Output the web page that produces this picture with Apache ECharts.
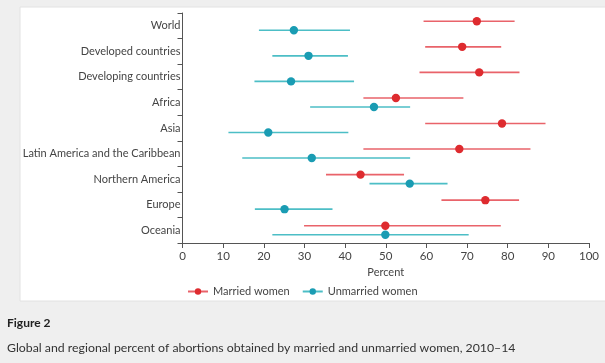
<!DOCTYPE html>
<html><head><meta charset="utf-8">
<script src="https://cdn.jsdelivr.net/npm/echarts@6/dist/echarts.min.js"></script>
<style>html,body{margin:0;padding:0;background:#efefef;}#c{width:605px;height:363px;}</style>
</head><body><div id="c"></div>
<script>
const categories = ['World','Developed countries','Developing countries','Africa','Asia','Latin America and the Caribbean','Northern America','Europe','Oceania'];
const marriedPoint = [72.4, 68.8, 73.0, 52.5, 78.6, 68.1, 43.8, 74.5, 49.9];
const marriedLow   = [59.3, 59.7, 58.3, 44.5, 59.7, 44.5, 35.3, 63.7, 29.9];
const marriedHigh  = [81.7, 78.4, 82.9, 69.1, 89.3, 85.6, 54.5, 82.8, 78.3];
const unmarriedPoint = [27.4, 31.0, 26.7, 47.1, 21.1, 31.8, 55.9, 25.1, 49.9];
const unmarriedLow   = [18.8, 22.1, 17.7, 31.4, 11.3, 14.7, 46.0, 17.8, 22.1];
const unmarriedHigh  = [41.2, 40.7, 42.2, 56.0, 40.8, 56.0, 65.2, 36.9, 70.4];
const xTicks = [0,10,20,30,40,50,60,70,80,90,100];

const FONT = 'Lato, sans-serif';
const RED_LINE = '#e9636a', RED_DOT = '#de2b2f';
const TEAL_LINE = '#4cbec6', TEAL_DOT = '#1a9cb3';

function build(point, low, high) {
  return categories.map((c, i) => [i, low[i], point[i], high[i]]);
}
function makeRender(offset, lineColor, dotColor) {
  return function (params, api) {
    const idx = api.value(0);
    const pLo = api.coord([api.value(1), idx]);
    const pPt = api.coord([api.value(2), idx]);
    const pHi = api.coord([api.value(3), idx]);
    const y = pPt[1] + offset;
    return {
      type: 'group',
      children: [
        {type: 'line', shape: {x1: pLo[0], y1: y, x2: pHi[0], y2: y}, style: {stroke: lineColor, lineWidth: 1.6}},
        {type: 'circle', shape: {cx: pPt[0], cy: y, r: 4.2}, style: {fill: dotColor}}
      ]
    };
  };
}

const chart = echarts.init(document.getElementById('c'));
chart.setOption({
  backgroundColor: '#efefef',
  animation: false,
  graphic: [
    {type: 'rect', z: -10, shape: {x: 20, y: 7, width: 600, height: 294}, style: {fill: '#ffffff', stroke: '#e2e2e2', lineWidth: 1}}
  ],
  title: [
    {text: 'Figure 2', left: 2, top: 312, textStyle: {fontFamily: FONT, fontSize: 12, fontWeight: 'bold', color: '#222'}},
    {text: 'Global and regional percent of abortions obtained by married and unmarried women, 2010\u201314', left: 2, top: 337, textStyle: {fontFamily: FONT, fontSize: 12.3, fontWeight: 'normal', color: '#333'}}
  ],
  legend: {
    top: 281, left: 182,
    itemWidth: 20, itemHeight: 8, itemGap: 12,
    textStyle: {fontFamily: FONT, fontSize: 11, color: '#444'},
    data: ['Married women', 'Unmarried women']
  },
  grid: {left: 182.5, right: 16, top: 13, bottom: 120},
  xAxis: {
    type: 'value', min: 0, max: 100, interval: 10,
    name: 'Percent', nameLocation: 'middle', nameGap: 23,
    nameTextStyle: {fontFamily: FONT, fontSize: 11, color: '#444'},
    axisLine: {show: true, lineStyle: {color: '#555', width: 1}},
    axisTick: {show: true, length: 5, lineStyle: {color: '#555'}},
    axisLabel: {fontFamily: FONT, fontSize: 11.5, color: '#444', margin: 7, formatter: v => xTicks.indexOf(v) >= 0 ? String(v) : ''},
    splitLine: {show: false}
  },
  yAxis: {
    type: 'category', inverse: true, data: categories,
    axisLine: {show: true, lineStyle: {color: '#555', width: 1}},
    axisTick: {show: true, length: 5, lineStyle: {color: '#555'}},
    axisLabel: {fontFamily: FONT, fontSize: 11, color: '#444', margin: 2},
    splitLine: {show: false}
  },
  series: [
    {type: 'line', name: 'Married women', data: [], color: RED_DOT, symbol: 'circle', symbolSize: 5, lineStyle: {color: RED_LINE, width: 1.6}, itemStyle: {color: RED_DOT}},
    {type: 'line', name: 'Unmarried women', data: [], color: TEAL_DOT, symbol: 'circle', symbolSize: 5, lineStyle: {color: TEAL_LINE, width: 1.6}, itemStyle: {color: TEAL_DOT}},
    {type: 'custom', name: 'Married women', renderItem: makeRender(-4.5, RED_LINE, RED_DOT), encode: {x: [1,2,3], y: 0}, data: build(marriedPoint, marriedLow, marriedHigh)},
    {type: 'custom', name: 'Unmarried women', renderItem: makeRender(4.5, TEAL_LINE, TEAL_DOT), encode: {x: [1,2,3], y: 0}, data: build(unmarriedPoint, unmarriedLow, unmarriedHigh)}
  ]
});
</script></body></html>
